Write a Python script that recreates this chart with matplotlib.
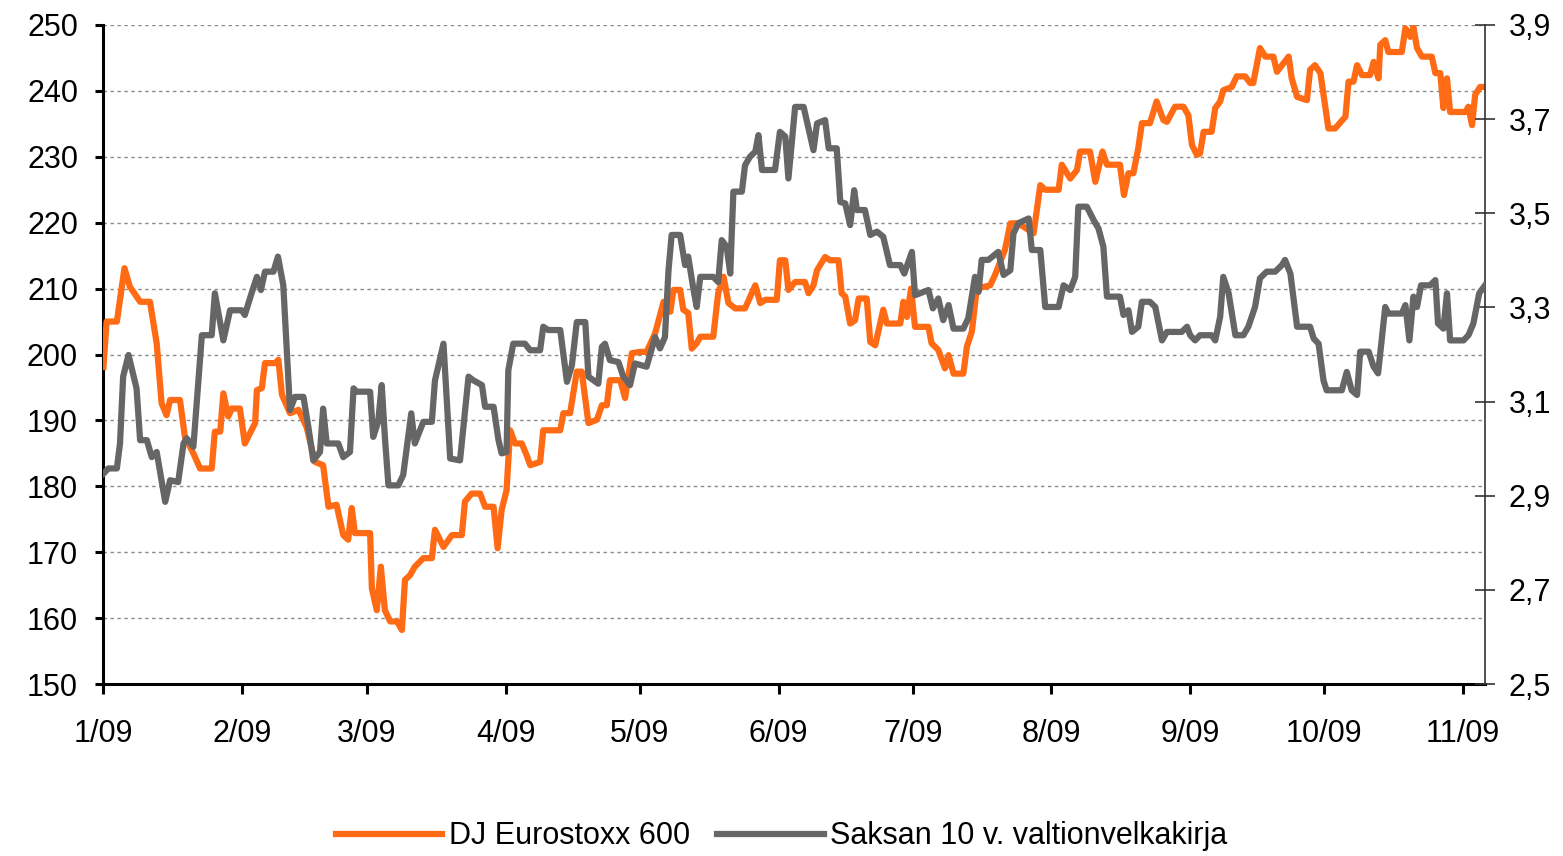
import numpy as np
import matplotlib
matplotlib.use('Agg')
import matplotlib.pyplot as plt

# --- DATA ---
# x values are days since 1 Jan 2009
stoxx_days = [0.1, 0.8, 3.1, 4.8, 6.0, 8.3, 10.5, 12.0, 13.1, 14.2, 15.0, 17.2, 18.3, 20.2, 21.7,
              24.3, 25.0, 26.2, 26.9, 28.0, 28.8, 30.6, 31.7, 34.0, 34.4, 35.5, 36.2, 38.5, 39.2,
              40.0, 41.8, 43.7, 45.5, 47.4, 49.2, 50.4, 52.2, 53.7, 54.8, 55.6, 56.3, 59.7, 60.1,
              61.2, 62.1, 63.0, 64.2, 65.7, 66.8, 67.5, 68.6, 69.7, 71.6, 73.5, 74.2, 76.1, 78.0,
              80.2, 80.9, 82.4, 84.3, 85.4, 87.3, 88.2, 89.1, 90.2, 91.0, 92.1, 93.6, 94.7, 95.5,
              97.7, 98.4, 102.2, 102.9, 104.4, 105.9, 107.0, 108.5, 110.4, 111.5, 112.6, 113.3,
              115.6, 116.7, 118.2, 120.0, 121.5, 123.4, 124.5, 125.3, 126.8, 127.5, 129.0, 129.7,
              130.8, 131.6, 132.7, 133.5, 136.4, 137.5, 138.7, 139.8, 141.3, 143.5, 145.8, 146.9,
              148.0, 150.6, 151.3, 152.5, 153.2, 154.7, 156.9, 157.7, 158.8, 159.6, 161.4, 162.5,
              164.4, 165.1, 165.9, 167.0, 168.1, 168.9, 170.7, 171.5, 172.6, 174.4, 175.2, 178.2,
              178.9, 179.7, 180.6, 181.5, 184.5, 185.2, 186.7, 188.2, 189.0, 190.1, 192.3, 193.1,
              194.2, 195.3, 198.3, 199.4, 201.6, 202.8, 204.6, 208.0, 209.5, 210.6, 213.6, 214.3,
              216.2, 217.7, 218.4, 220.6, 221.8, 223.4, 224.4, 227.3, 228.2, 229.2, 230.3, 231.4,
              232.2, 234.0, 235.5, 237.0, 237.8, 239.6, 241.5, 242.6, 243.4, 244.5, 245.2, 246.0,
              247.8, 248.6, 249.7, 250.4, 252.3, 253.4, 255.3, 256.4, 257.1, 258.6, 259.8, 261.6,
              262.4, 265.0, 265.7, 266.9, 269.1, 269.8, 270.9, 272.1, 273.2, 273.9, 275.4, 277.7,
              278.4, 279.5, 280.3, 281.4, 283.2, 284.0, 285.1, 285.5, 286.6, 287.3, 290.3, 291.1,
              292.2, 292.9, 293.7, 294.8, 297.0, 297.8, 298.9, 299.6, 300.4, 301.1, 304.5, 305.2,
              306.0, 306.7, 307.8, 308.9]
stoxx = [198.1, 205.0, 205.0, 213.1, 210.3, 208.0, 208.0, 201.7, 192.6, 190.8, 193.1, 193.1, 187.5,
         185.0, 182.7, 182.7, 188.3, 188.3, 194.1, 190.6, 191.8, 191.8, 186.5, 189.6, 194.6, 194.9,
         198.7, 198.7, 199.2, 193.9, 191.1, 191.6, 189.0, 183.7, 183.2, 176.9, 177.2, 172.6, 171.9,
         176.7, 172.9, 172.9, 164.5, 161.2, 167.8, 161.2, 159.5, 159.5, 158.2, 165.8, 166.5, 167.8,
         169.1, 169.1, 173.4, 170.8, 172.6, 172.6, 177.7, 178.9, 178.9, 176.9, 176.9, 170.6, 176.4,
         179.4, 188.5, 186.5, 186.5, 184.7, 183.2, 183.7, 188.5, 188.5, 191.1, 191.1, 197.4, 197.4,
         189.6, 190.1, 192.3, 192.3, 196.1, 196.1, 193.4, 200.2, 200.4, 200.4, 203.2, 206.0, 208.0,
         206.5, 209.8, 209.8, 206.8, 206.3, 200.9, 201.7, 202.7, 202.7, 209.3, 211.8, 207.8, 207.0,
         207.0, 210.5, 207.8, 208.3, 208.3, 214.3, 214.3, 209.8, 211.0, 211.0, 209.3, 210.5, 212.8,
         214.8, 214.3, 214.3, 209.3, 208.8, 204.7, 205.2, 208.5, 208.5, 201.9, 201.4, 206.8, 204.7,
         204.7, 208.0, 205.7, 210.0, 204.2, 204.2, 201.7, 200.7, 197.9, 199.9, 197.1, 197.1, 201.2,
         203.5, 210.0, 210.5, 212.1, 215.9, 219.9, 219.9, 218.4, 225.7, 225.0, 225.0, 228.8, 226.7,
         228.0, 230.8, 230.8, 226.2, 230.8, 228.8, 228.8, 224.2, 227.5, 227.5, 231.3, 235.1, 235.1,
         238.4, 235.6, 235.3, 237.6, 237.6, 236.3, 231.8, 230.3, 230.5, 233.8, 233.8, 237.4, 238.4,
         240.1, 240.6, 242.2, 242.2, 241.2, 241.2, 246.5, 245.2, 245.2, 242.9, 245.2, 241.9, 239.1,
         238.6, 243.2, 243.9, 242.7, 237.6, 234.3, 234.3, 236.1, 241.4, 241.4, 243.9, 242.4, 242.4,
         244.4, 241.9, 247.0, 247.7, 245.9, 245.9, 249.5, 248.2, 249.7, 246.5, 245.2, 245.2, 242.7,
         242.7, 237.4, 241.9, 236.8, 236.8, 237.6, 234.8, 239.4, 240.6, 240.6]

bund_days = [0.1, 1.2, 3.1, 3.8, 4.5, 5.7, 7.5, 8.3, 9.8, 10.9, 12.0, 13.9, 15.0, 16.8, 18.0, 18.7,
             20.2, 22.1, 24.3, 25.0, 26.9, 28.4, 31.0, 31.7, 33.2, 34.4, 35.3, 36.2, 38.1, 39.1,
             40.3, 41.8, 42.9, 44.8, 45.9, 47.0, 48.5, 49.2, 50.0, 52.6, 53.7, 55.2, 56.0, 56.7,
             59.7, 60.4, 61.5, 62.3, 63.0, 63.8, 66.0, 67.1, 68.9, 69.7, 71.6, 73.5, 74.2, 76.1,
             77.6, 79.8, 81.7, 82.8, 84.7, 85.4, 87.3, 88.4, 89.1, 90.2, 90.6, 91.7, 94.3, 95.5,
             97.7, 98.4, 99.5, 102.2, 103.7, 104.8, 105.9, 107.8, 108.5, 110.7, 111.5, 112.2,
             113.3, 115.2, 116.3, 117.8, 118.9, 121.5, 123.4, 124.5, 125.6, 126.4, 127.1, 129.0,
             130.1, 130.8, 132.0, 132.7, 133.5, 136.4, 137.5, 138.3, 139.4, 140.2, 140.9, 142.8,
             143.5, 144.6, 145.8, 146.5, 147.3, 150.2, 151.3, 152.5, 153.2, 154.7, 156.6, 158.8,
             159.6, 161.4, 162.2, 164.0, 164.8, 165.9, 167.0, 167.9, 168.5, 170.3, 171.5, 173.0,
             174.4, 175.9, 178.2, 179.1, 180.8, 181.5, 184.5, 185.5, 186.7, 187.8, 189.0, 190.1,
             192.3, 193.4, 194.9, 195.7, 196.4, 197.9, 200.1, 201.3, 202.8, 203.5, 204.6, 206.9,
             207.6, 209.5, 210.6, 213.6, 214.7, 216.2, 217.3, 218.0, 219.9, 221.4, 222.5, 223.6,
             224.4, 227.3, 228.1, 229.2, 230.0, 231.4, 232.2, 234.0, 235.2, 236.7, 237.8, 241.1,
             242.3, 243.0, 244.1, 245.2, 247.8, 248.6, 249.7, 250.4, 251.6, 253.1, 254.9, 256.0,
             257.5, 258.6, 260.1, 262.0, 263.5, 264.2, 265.4, 266.9, 269.8, 270.6, 271.7, 272.8,
             273.5, 276.9, 278.0, 279.1, 280.3, 281.0, 282.9, 284.0, 285.0, 286.6, 287.3, 290.3,
             291.1, 292.0, 292.9, 293.7, 294.6, 296.6, 297.8, 298.4, 299.6, 300.4, 301.1, 304.1,
             305.2, 306.3, 307.6, 308.9]
bund = [2.947, 2.958, 2.958, 3.011, 3.153, 3.199, 3.128, 3.018, 3.018, 2.982, 2.993, 2.887, 2.933,
        2.929, 3.011, 3.022, 3.004, 3.241, 3.241, 3.330, 3.230, 3.294, 3.294, 3.284, 3.330, 3.365,
        3.337, 3.376, 3.376, 3.408, 3.347, 3.082, 3.110, 3.110, 3.046, 2.975, 2.993, 3.085, 3.011,
        3.011, 2.982, 2.993, 3.128, 3.121, 3.121, 3.025, 3.057, 3.135, 3.025, 2.922, 2.922, 2.944,
        3.075, 3.011, 3.057, 3.057, 3.145, 3.223, 2.979, 2.975, 3.153, 3.145, 3.135, 3.089, 3.089,
        3.018, 2.990, 2.993, 3.167, 3.223, 3.223, 3.209, 3.209, 3.259, 3.252, 3.252, 3.142, 3.177,
        3.269, 3.269, 3.153, 3.138, 3.216, 3.223, 3.188, 3.184, 3.153, 3.135, 3.181, 3.174, 3.237,
        3.213, 3.237, 3.379, 3.454, 3.454, 3.390, 3.408, 3.337, 3.301, 3.365, 3.365, 3.354, 3.443,
        3.429, 3.372, 3.546, 3.546, 3.602, 3.620, 3.631, 3.666, 3.592, 3.592, 3.673, 3.663, 3.574,
        3.726, 3.726, 3.634, 3.691, 3.698, 3.638, 3.638, 3.524, 3.521, 3.475, 3.549, 3.507, 3.507,
        3.454, 3.461, 3.450, 3.390, 3.390, 3.372, 3.418, 3.326, 3.337, 3.298, 3.319, 3.273, 3.305,
        3.255, 3.255, 3.277, 3.365, 3.333, 3.401, 3.401, 3.418, 3.369, 3.379, 3.457, 3.479, 3.489,
        3.422, 3.422, 3.301, 3.301, 3.347, 3.337, 3.365, 3.514, 3.514, 3.486, 3.468, 3.429, 3.323,
        3.323, 3.284, 3.294, 3.248, 3.259, 3.312, 3.312, 3.301, 3.230, 3.248, 3.248, 3.259, 3.241,
        3.230, 3.241, 3.241, 3.230, 3.280, 3.365, 3.330, 3.241, 3.241, 3.259, 3.301, 3.362, 3.376,
        3.376, 3.390, 3.401, 3.372, 3.259, 3.259, 3.234, 3.223, 3.145, 3.124, 3.124, 3.163, 3.124,
        3.114, 3.206, 3.206, 3.174, 3.160, 3.301, 3.287, 3.287, 3.305, 3.230, 3.323, 3.301, 3.347,
        3.347, 3.358, 3.266, 3.255, 3.330, 3.230, 3.230, 3.241, 3.266, 3.330, 3.347]

month_days = [0, 31, 59, 90, 120, 151, 181, 212, 243, 273, 304]
month_labels = ['1/09', '2/09', '3/09', '4/09', '5/09', '6/09', '7/09', '8/09', '9/09', '10/09', '11/09']
left_ticks = [150, 160, 170, 180, 190, 200, 210, 220, 230, 240, 250]
right_ticks = [2.5, 2.7, 2.9, 3.1, 3.3, 3.5, 3.7, 3.9]

ORANGE = '#ff6b14'
GREY = '#666666'

plt.rcParams['font.family'] = ['Liberation Sans', 'DejaVu Sans']
plt.rcParams['font.size'] = 22

fig = plt.figure(figsize=(15.63, 8.56), dpi=100)
ax = fig.add_axes([0.0659, 0.2009, 0.8842, 0.7699])
ax2 = ax.twinx()

l1, = ax.plot(stoxx_days, stoxx, color=ORANGE, linewidth=4.5, solid_joinstyle='round',
              label='DJ Eurostoxx 600', zorder=3)
l2, = ax2.plot(bund_days, bund, color=GREY, linewidth=4.5, solid_joinstyle='round',
               label='Saksan 10 v. valtionvelkakirja', zorder=3)

ax.set_xlim(0, 308.9)
ax.set_ylim(150, 250)
ax2.set_ylim(2.5, 3.9)

ax.set_yticks(left_ticks)
ax.set_yticklabels([str(t) for t in left_ticks])
ax2.set_yticks(right_ticks)
ax2.set_yticklabels([f'{t:.1f}'.replace('.', ',') for t in right_ticks])
ax.set_xticks(month_days)
ax.set_xticklabels(month_labels)

ax.yaxis.grid(True, color='#8c8c8c', linestyle=(0, (2.5, 2.5)), linewidth=1.0)
ax.set_axisbelow(True)

ax.spines['top'].set_visible(False)
ax2.spines['top'].set_visible(False)
ax.spines['right'].set_visible(False)
ax2.spines['left'].set_visible(False)
ax2.spines['bottom'].set_visible(False)
ax.spines['left'].set_linewidth(2.2)
ax.spines['bottom'].set_linewidth(2.2)
ax2.spines['right'].set_linewidth(1.2)
ax2.spines['right'].set_color('#333333')

ax.tick_params(axis='y', direction='out', length=6, width=2.2, pad=12)
ax.tick_params(axis='x', direction='out', length=7, width=2.2, pad=18)
ax2.tick_params(axis='y', direction='inout', length=14, width=1.2, color='#333333', pad=10)

fig.legend(handles=[l1, l2], loc='center', bbox_to_anchor=(0.5, 0.023), ncol=2,
           frameon=False, handlelength=3.5, handletextpad=0.2, columnspacing=0.9,
           fontsize=22)

fig.savefig('out.png', dpi=100)
